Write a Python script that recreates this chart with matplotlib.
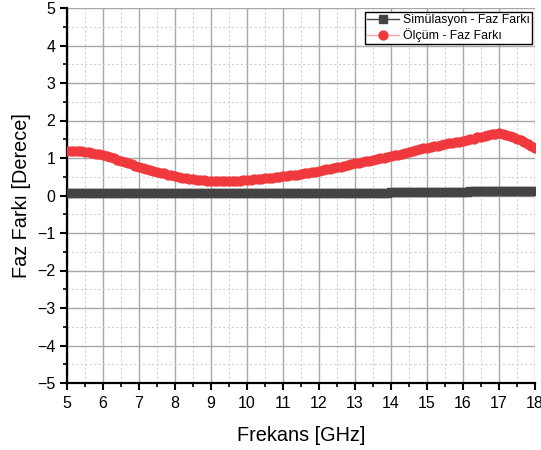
import numpy as np
import matplotlib
matplotlib.use("Agg")
import matplotlib.pyplot as plt
from matplotlib.ticker import MultipleLocator

plt.rcParams['font.family'] = ['Liberation Sans', 'DejaVu Sans']

freq = np.round(np.arange(5.0, 18.0001, 0.1), 1)

meas_values = [
    1.19, 1.20, 1.20, 1.19, 1.18, 1.17, 1.16, 1.14, 1.12, 1.10,
    1.08, 1.06, 1.03, 1.00, 0.96, 0.93, 0.90, 0.87, 0.84, 0.80,
    0.77, 0.74, 0.71, 0.69, 0.66, 0.64, 0.61, 0.59, 0.56, 0.54,
    0.52, 0.50, 0.48, 0.46, 0.45, 0.43, 0.42, 0.41, 0.41, 0.40,
    0.40, 0.39, 0.39, 0.39, 0.39, 0.39, 0.39, 0.40, 0.40, 0.41,
    0.41, 0.42, 0.43, 0.44, 0.45, 0.46, 0.47, 0.48, 0.49, 0.50,
    0.51, 0.53, 0.54, 0.55, 0.56, 0.57, 0.59, 0.61, 0.62, 0.64,
    0.66, 0.68, 0.70, 0.71, 0.73, 0.75, 0.77, 0.79, 0.82, 0.84,
    0.86, 0.88, 0.90, 0.91, 0.93, 0.95, 0.97, 0.99, 1.01, 1.03,
    1.05, 1.07, 1.09, 1.11, 1.14, 1.17, 1.19, 1.21, 1.23, 1.26,
    1.28, 1.30, 1.32, 1.33, 1.35, 1.37, 1.39, 1.40, 1.42, 1.43,
    1.45, 1.47, 1.50, 1.52, 1.55, 1.57, 1.59, 1.61, 1.63, 1.65,
    1.66, 1.64, 1.61, 1.58, 1.55, 1.51, 1.47, 1.42, 1.38, 1.33,
    1.27,
]

sim_values = [
    0.07, 0.07, 0.07, 0.07, 0.07, 0.07, 0.07, 0.07, 0.07, 0.07,
    0.07, 0.07, 0.07, 0.07, 0.07, 0.07, 0.07, 0.07, 0.07, 0.07,
    0.07, 0.07, 0.07, 0.07, 0.07, 0.07, 0.07, 0.07, 0.07, 0.07,
    0.07, 0.07, 0.07, 0.07, 0.07, 0.07, 0.07, 0.07, 0.07, 0.07,
    0.07, 0.07, 0.07, 0.07, 0.07, 0.07, 0.07, 0.07, 0.07, 0.07,
    0.07, 0.07, 0.07, 0.07, 0.07, 0.07, 0.07, 0.07, 0.07, 0.07,
    0.08, 0.08, 0.08, 0.08, 0.08, 0.08, 0.08, 0.08, 0.08, 0.08,
    0.08, 0.08, 0.08, 0.08, 0.08, 0.08, 0.08, 0.08, 0.08, 0.08,
    0.08, 0.08, 0.08, 0.08, 0.08, 0.08, 0.08, 0.08, 0.08, 0.08,
    0.09, 0.09, 0.09, 0.09, 0.09, 0.09, 0.09, 0.09, 0.09, 0.09,
    0.09, 0.09, 0.09, 0.09, 0.09, 0.09, 0.09, 0.09, 0.09, 0.09,
    0.09, 0.09, 0.11, 0.11, 0.11, 0.11, 0.11, 0.11, 0.11, 0.11,
    0.11, 0.11, 0.11, 0.11, 0.11, 0.11, 0.11, 0.11, 0.13, 0.13,
    0.13,
]

sim_label = "Simülasyon - Faz Farkı"
meas_label = "Ölçüm - Faz Farkı"
x_ticks = [5, 6, 7, 8, 9, 10, 11, 12, 13, 14, 15, 16, 17, 18]
y_ticks = [-5, -4, -3, -2, -1, 0, 1, 2, 3, 4, 5]

fig = plt.figure(figsize=(5.41, 4.5), dpi=100)
ax = fig.add_axes([67/541, 1-383/450, (535-67)/541, (383-8)/450])

ax.plot(freq, sim_values, color='#444444', marker='s', markersize=6.2,
        linewidth=1, label=sim_label, zorder=3)
ax.plot(freq, meas_values, color='#f5a3a3', marker='o', markersize=6.4,
        markerfacecolor='#f0393c', markeredgecolor='#f0393c',
        linewidth=1, label=meas_label, zorder=4)

ax.set_xlim(5, 18)
ax.set_ylim(-5, 5)
ax.set_xticks(x_ticks)
ax.set_yticks(y_ticks)
ax.xaxis.set_minor_locator(MultipleLocator(0.5))
ax.yaxis.set_minor_locator(MultipleLocator(0.5))

ax.grid(which='major', color='#a8a8a8', linewidth=1, linestyle='-', zorder=0)
ax.grid(which='minor', color='#d0d0d0', linewidth=0.8, linestyle=(0, (2, 2)), zorder=0)
ax.set_axisbelow(True)

for s in ['top', 'right']:
    ax.spines[s].set_visible(False)
for s in ['left', 'bottom']:
    ax.spines[s].set_linewidth(1.6)
    ax.spines[s].set_color('black')

ax.tick_params(which='major', direction='out', length=5, width=1.5, labelsize=11.5, colors='black')
ax.tick_params(which='minor', direction='out', length=3, width=1.2)
ax.tick_params(axis='x', pad=4)

ax.set_xlabel("Frekans [GHz]", fontsize=14.3, labelpad=11)
ax.set_ylabel("Faz Farkı [Derece]", fontsize=14.3, labelpad=4)

leg = ax.legend(loc='upper right', bbox_to_anchor=(0.994, 0.99), fontsize=8.8,
                frameon=True, fancybox=False, framealpha=1, edgecolor='black',
                borderpad=0.2, labelspacing=0.15, handlelength=2.6,
                handletextpad=0.3, borderaxespad=0)
leg.get_frame().set_linewidth(1.0)

fig.savefig("out.png", dpi=100)
